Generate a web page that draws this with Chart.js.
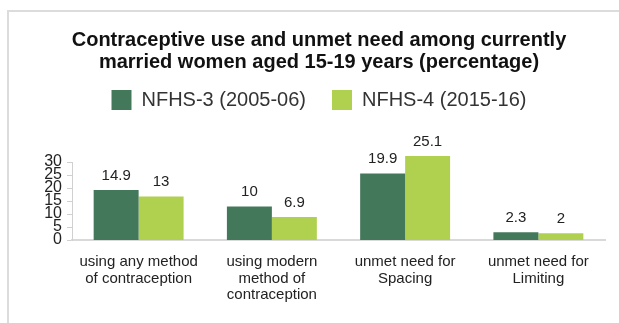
<!DOCTYPE html>
<html>
<head>
<meta charset="utf-8">
<script src="https://cdn.jsdelivr.net/npm/chart.js@4/dist/chart.umd.min.js"></script>
<style>
  html, body { margin: 0; padding: 0; background: #fff; }
  body { width: 619px; height: 323px; position: relative; overflow: hidden; }
  #frame { position: absolute; left: 7px; top: 10px; width: 700px; height: 400px;
           border-left: 2px solid #dcdcdc; border-top: 2px solid #dcdcdc; }
  #wrap { position: absolute; left: 0; top: 0; width: 619px; height: 323px; }
</style>
</head>
<body>
<div id="frame"></div>
<div id="wrap"><canvas id="c" width="619" height="323"></canvas></div>
<script>
const titleLines = ["Contraceptive use and unmet need among currently", "married women aged 15-19 years (percentage)"];
const categories = [
  ["using any method", "of contraception"],
  ["using modern", "method of", "contraception"],
  ["unmet need for", "Spacing"],
  ["unmet need for", "Limiting"]
];
const seriesNames = ["NFHS-3 (2005-06)", "NFHS-4 (2015-16)"];
const nfhs3 = [14.9, 10, 19.9, 2.3];
const nfhs4 = [13, 6.9, 25.1, 2];
const axisTicks = [0, 5, 10, 15, 20, 25, 30];

const darkGreen = '#44785a';
const lightGreen = '#b0d050';
const FONT = '"Liberation Sans", Arial, sans-serif';

const valueLabels = {
  id: 'valueLabels',
  afterDatasetsDraw(chart) {
    const ctx = chart.ctx;
    ctx.save();
    ctx.font = '15px ' + FONT;
    ctx.fillStyle = '#222';
    ctx.textAlign = 'center';
    ctx.textBaseline = 'bottom';
    chart.data.datasets.forEach((ds, di) => {
      const meta = chart.getDatasetMeta(di);
      meta.data.forEach((bar, i) => {
        ctx.fillText(String(ds.data[i]), bar.x, bar.y - 7);
      });
    });
    ctx.restore();
  }
};

new Chart(document.getElementById('c'), {
  type: 'bar',
  data: {
    labels: categories,
    datasets: [
      { label: seriesNames[0], data: nfhs3, backgroundColor: darkGreen, yAxisID: 'y2', clip: false,
        barPercentage: 1, categoryPercentage: 0.675 },
      { label: seriesNames[1], data: nfhs4, backgroundColor: lightGreen, yAxisID: 'y2', clip: false,
        barPercentage: 1, categoryPercentage: 0.675 }
    ]
  },
  options: {
    responsive: false,
    animation: false,
    devicePixelRatio: 1,
    layout: { padding: { left: 19, right: 0, top: 0, bottom: 0 } },
    plugins: {
      tooltip: { enabled: false },
      title: {
        display: true,
        text: titleLines,
        color: '#111',
        font: { family: FONT, size: 20, weight: 'bold', lineHeight: 1.1 },
        padding: { top: 29, bottom: -9 }
      },
      subtitle: {
        display: true,
        text: '',
        weight: 500,
        font: { size: 10, lineHeight: 1 },
        padding: { top: 16, bottom: 16 }
      },
      legend: {
        display: true,
        position: 'top',
        labels: {
          boxWidth: 20,
          boxHeight: 20,
          padding: 26,
          color: '#333',
          font: { family: FONT, size: 20 }
        }
      }
    },
    scales: {
      x: {
        grid: { display: false, drawTicks: false },
        border: { display: true, color: '#d9d9d9', width: 2 },
        ticks: {
          color: '#222',
          padding: 14,
          maxRotation: 0,
          autoSkip: false,
          font: { family: FONT, size: 15, lineHeight: 1.1 }
        },
        afterFit(s) { s.height = 83; }
      },
      y: {
        position: 'left',
        min: 0,
        max: 30,
        afterBuildTicks(s) { s.ticks = axisTicks.map(v => ({ value: v })); },
        grid: { display: true, drawOnChartArea: false, drawTicks: true, tickLength: 5, color: '#d0d0d0' },
        border: { display: true, color: '#d0d0d0', width: 1 },
        ticks: {
          color: '#222',
          padding: 5,
          autoSkip: false,
          font: { family: FONT, size: 16, lineHeight: 1 }
        },
        afterFit(s) { s.width = 53; }
      },
      y2: {
        position: 'right',
        min: 0,
        max: 23.3,
        display: true,
        grid: { display: false, drawTicks: false },
        border: { display: false },
        ticks: { display: false },
        afterFit(s) { s.width = 14; }
      }
    }
  },
  plugins: [valueLabels]
});
</script>
</body>
</html>
